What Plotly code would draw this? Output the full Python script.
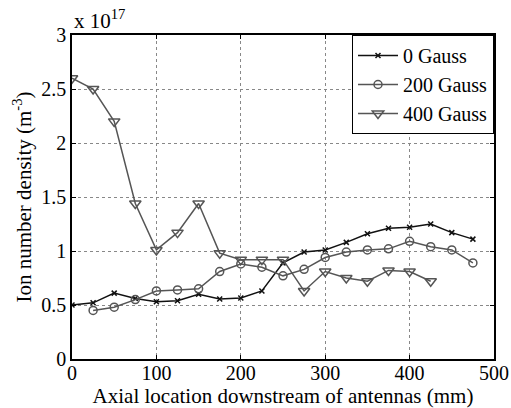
import plotly.graph_objects as go

# Axial positions (mm) and ion number density (units of 1e17 m^-3)
x_0g = [0, 25, 50, 75, 100, 125, 150, 175, 200, 225, 250, 275, 300, 325, 350, 375, 400, 425, 450, 475]
n_0g = [0.50, 0.52, 0.61, 0.56, 0.53, 0.54, 0.60, 0.555, 0.565, 0.63, 0.89, 0.99, 1.01, 1.08, 1.16, 1.21, 1.22, 1.25, 1.17, 1.11]

x_200g = [25, 50, 75, 100, 125, 150, 175, 200, 225, 250, 275, 300, 325, 350, 375, 400, 425, 450, 475]
n_200g = [0.45, 0.48, 0.55, 0.63, 0.64, 0.65, 0.81, 0.88, 0.85, 0.77, 0.83, 0.94, 0.99, 1.01, 1.02, 1.09, 1.04, 1.01, 0.89]

x_400g = [0, 25, 50, 75, 100, 125, 150, 175, 200, 225, 250, 275, 300, 325, 350, 375, 400, 425]
n_400g = [2.60, 2.50, 2.20, 1.44, 1.01, 1.17, 1.44, 0.98, 0.92, 0.92, 0.92, 0.63, 0.81, 0.75, 0.72, 0.82, 0.81, 0.72]

x_ticks = [0, 100, 200, 300, 400, 500]
y_ticks = [0, 0.5, 1, 1.5, 2, 2.5, 3]
y_tick_text = ["0", "0.5", "1", "1.5", "2", "2.5", "3"]

FONT = "Liberation Serif"
GRAY = "#555555"
FS = 21

fig = go.Figure()
fig.add_trace(go.Scatter(
    x=x_0g, y=n_0g, name="0 Gauss", mode="lines+markers",
    line=dict(color="#111111", width=1.5),
    marker=dict(symbol="x-thin", size=5, line=dict(color="#111111", width=1.5)),
))
fig.add_trace(go.Scatter(
    x=x_200g, y=n_200g, name="200 Gauss", mode="lines+markers",
    line=dict(color=GRAY, width=1.5),
    marker=dict(symbol="circle-open", size=8, color=GRAY, line=dict(color=GRAY, width=1.5)),
))
fig.add_trace(go.Scatter(
    x=x_400g, y=n_400g, name="400 Gauss", mode="lines+markers",
    line=dict(color=GRAY, width=1.5),
    marker=dict(symbol="triangle-down-open", size=10, color=GRAY, line=dict(color=GRAY, width=1.5)),
))

axis_common = dict(
    showline=True, linecolor="black", linewidth=1.5, mirror="ticks",
    ticks="inside", ticklen=4, tickcolor="black",
    showgrid=True, gridcolor="#888888", griddash="dot", gridwidth=1,
    zeroline=False, automargin=False,
    tickfont=dict(family=FONT, size=20, color="black"),
)

fig.update_layout(
    width=511, height=408,
    margin=dict(l=72, r=17, t=35, b=49),
    paper_bgcolor="white", plot_bgcolor="white",
    font=dict(family=FONT, color="black", size=FS),
    xaxis=dict(range=[0, 500], tickvals=x_ticks, ticklabelstandoff=-5, **axis_common,
               title=dict(text="Axial location downstream of antennas (mm)",
                          font=dict(family=FONT, size=FS), standoff=2)),
    yaxis=dict(range=[0, 3], tickvals=y_ticks, ticktext=y_tick_text, **axis_common,
               title=dict(text="Ion number density (m<sup>-3</sup>)",
                          font=dict(family=FONT, size=FS), standoff=4)),
    legend=dict(x=1, y=1, xanchor="right", yanchor="top",
                bgcolor="white", bordercolor="black", borderwidth=1,
                font=dict(family=FONT, size=20), tracegroupgap=0,
                itemwidth=40),
    showlegend=True,
)

fig.add_annotation(
    x=0, y=1, xref="paper", yref="paper", xanchor="left", yanchor="bottom",
    text="x 10<sup>17</sup>", showarrow=False, yshift=0,
    font=dict(family=FONT, size=FS, color="black"),
)

fig.write_html("out.html")
